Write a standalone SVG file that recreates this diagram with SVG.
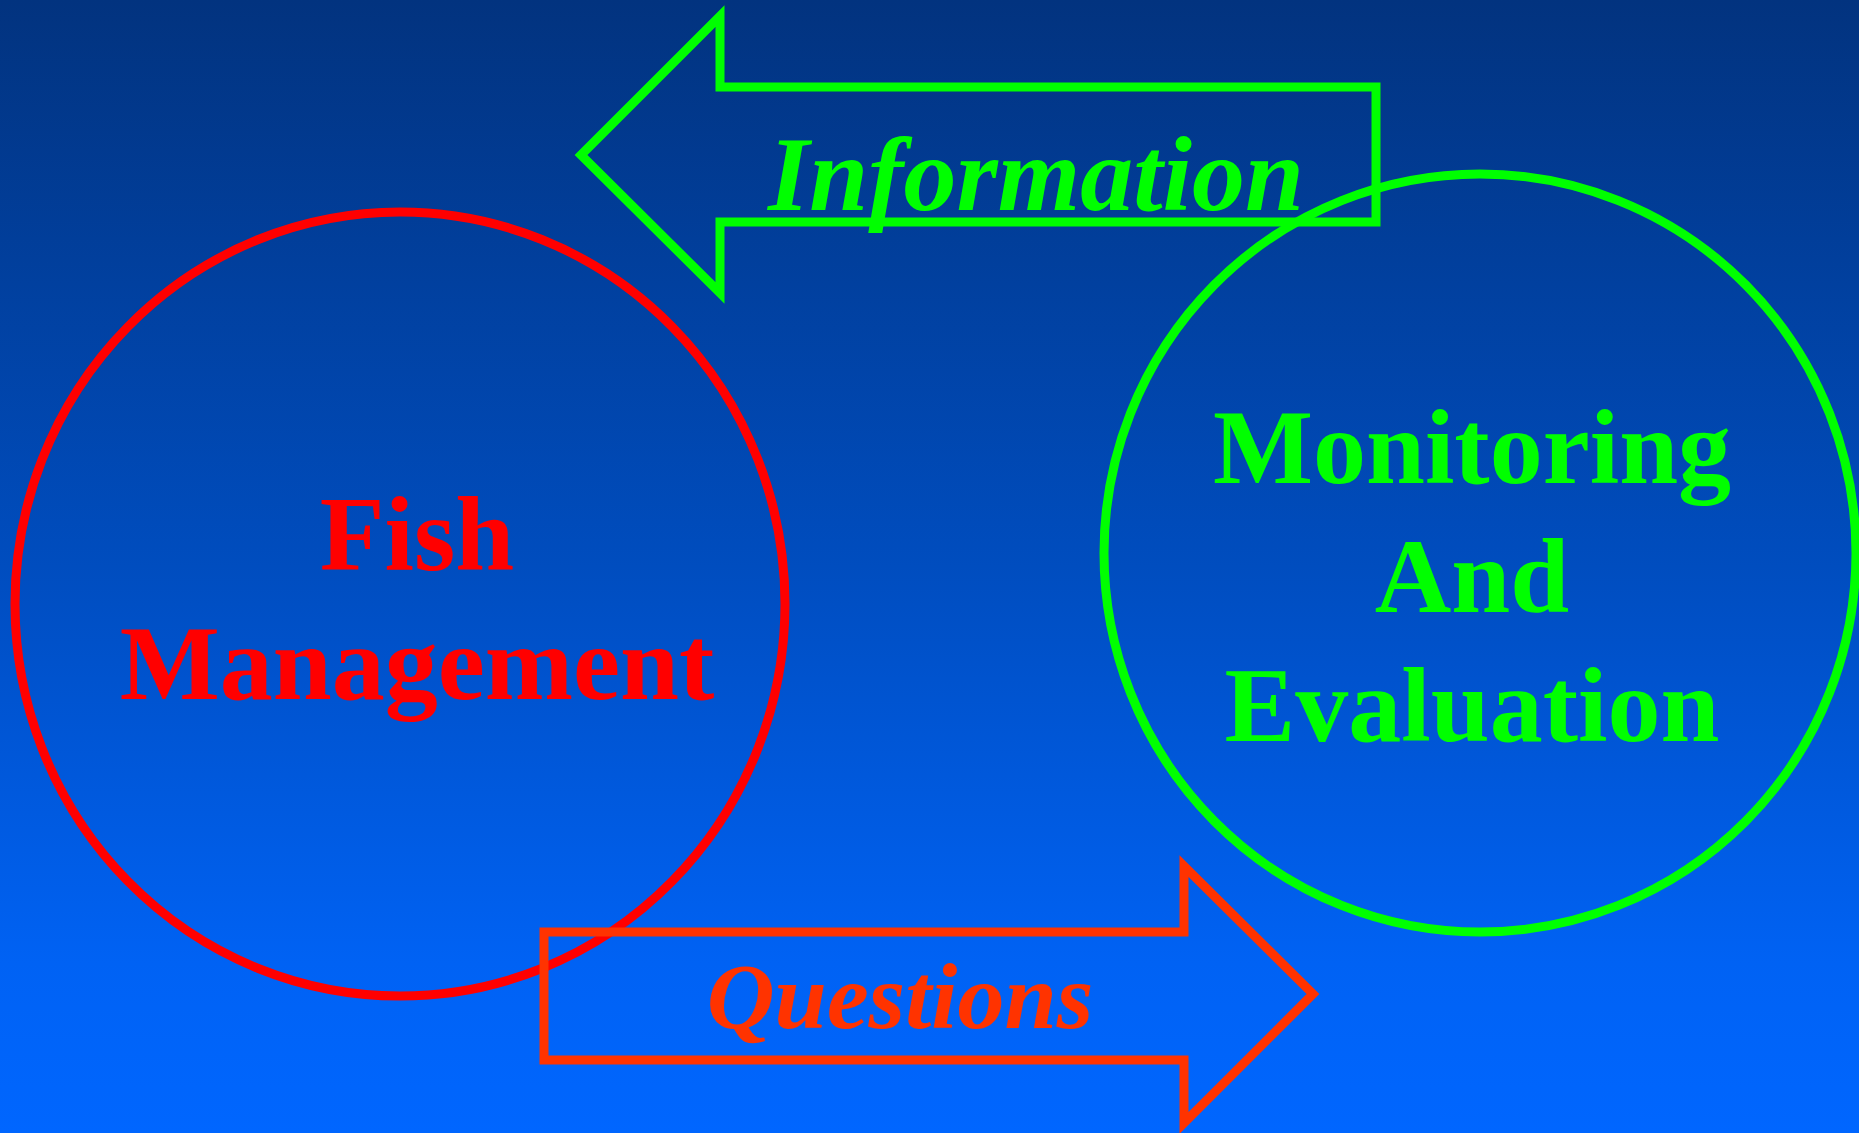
<svg xmlns="http://www.w3.org/2000/svg" width="1859" height="1133" viewBox="0 0 1859 1133">
<defs>
<linearGradient id="bg" x1="0" y1="0" x2="0" y2="1">
<stop offset="0" stop-color="#02337f"/>
<stop offset="0.5" stop-color="#004dbf"/>
<stop offset="0.85" stop-color="#0062f4"/>
<stop offset="1" stop-color="#0066ff"/>
</linearGradient>
<style>
.lbl{font-family:"Liberation Serif","Times New Roman",serif;font-weight:bold;font-size:106px;text-anchor:middle}
.it{font-style:italic}
.node{fill:none;stroke-width:9}
.arrow{fill:none;stroke-width:9;stroke-linejoin:miter}
</style>
</defs>
<rect x="0" y="0" width="1859" height="1133" fill="url(#bg)"/>
<g id="fish-management">
<ellipse class="node" cx="400" cy="604" rx="385" ry="392" stroke="#ff0000"/>
<text class="lbl" fill="#ff0000" x="417" y="570">Fish</text>
<text class="lbl" fill="#ff0000" x="417" y="699">Management</text>
</g>
<g id="monitoring-evaluation">
<ellipse class="node" cx="1480" cy="553" rx="376" ry="379" stroke="#00ff00"/>
<text class="lbl" fill="#00ff00" x="1472" y="483">Monitoring</text>
<text class="lbl" fill="#00ff00" x="1472" y="612">And</text>
<text class="lbl" fill="#00ff00" x="1472" y="741">Evaluation</text>
</g>
<g id="connectors">
<g id="information-arrow">
<polygon class="arrow" stroke="#00ff00" points="581,155 720,16 720,87 1376,87 1376,222 720,222 720,293"/>
<text class="lbl it" fill="#00ff00" x="1036" y="210">Information</text>
</g>
<g id="questions-arrow">
<polygon class="arrow" stroke="#ff3300" points="544,932 1184,932 1184,866 1313,994 1184,1123 1184,1060 544,1060"/>
<text class="lbl it" fill="#ff3300" style="font-size:94px" x="900" y="1028">Questions</text>
</g>
</g>
</svg>
